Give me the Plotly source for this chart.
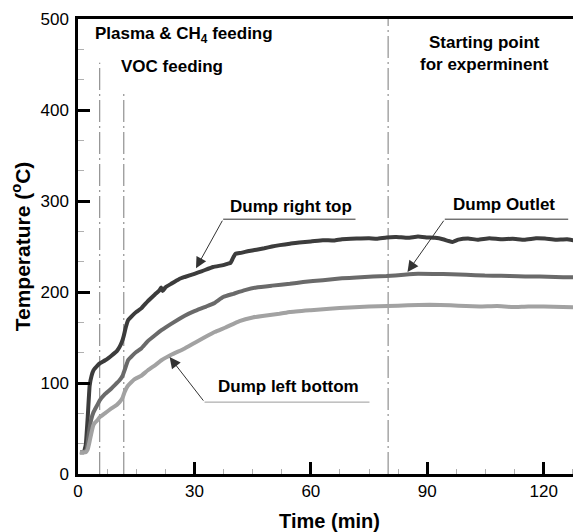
import plotly.graph_objects as go

# ---------------- data ----------------
t_right_top = [0.5, 1.5, 2.0, 2.5, 3.0, 3.5, 4.0, 5.0, 5.6, 7.0, 8.0, 8.6, 10.0, 10.7, 11.3, 11.8,
               12.3, 12.9, 14.0, 15.0, 16.3, 18.0, 20.0, 21.0, 21.4, 21.8, 22.5, 24.0, 26.0,
               27.5, 30.0, 32.0, 34.8, 37.4, 38.5, 39.3, 40.0, 40.6, 42.0, 44.0, 46.0, 48.0,
               50.0, 52.0, 54.6, 57.0, 60.0, 63.1, 66.0, 68.0, 71.8, 75.0, 77.0, 79.5, 82.0,
               85.0, 87.6, 90.0, 92.0, 94.0, 95.5, 96.5, 98.0, 100.5, 103.0, 106.0, 109.0,
               112.0, 115.0, 118.0, 120.3, 123.0, 126.0, 128.0, 129.6]
v_right_top = [24, 24, 32, 62, 97, 108, 114, 119, 121.5, 125, 128, 130, 135, 139.5, 145, 152,
               161, 169, 174, 178, 182, 190, 198, 202, 205, 201, 205, 209, 214,
               216.5, 220, 223, 227.5, 229.5, 231, 232, 238, 242, 243, 245, 246.5, 248,
               250, 251.5, 253, 254.5, 255.5, 257, 256.5, 258, 258.7, 259, 258.5, 260, 260.5,
               259.5, 261, 260, 259.5, 258, 256, 255, 257.5, 258.7, 257.5, 259, 258,
               258.5, 257.5, 259, 258.7, 257.5, 258, 256.5, 255.5]

t_outlet = [0.5, 1.5, 2.2, 2.8, 3.4, 4.0, 5.0, 5.6, 7.0, 8.6, 10.0, 10.7, 11.5, 12.0, 12.9,
            14.0, 15.0, 16.3, 18.0, 20.0, 21.5, 24.0, 27.5, 30.0, 33.0, 35.2, 37.4, 40.0,
            43.0, 46.0, 50.0, 54.6, 58.0, 63.1, 68.0, 71.8, 76.0, 79.5, 84.0, 87.6, 92.0,
            96.2, 100.0, 104.8, 109.0, 113.4, 117.0, 121.0, 125.0, 129.6]
v_outlet = [24, 24, 27, 45, 60, 68, 76, 81, 88, 94, 100, 103, 108, 114, 125,
            130, 134, 138, 146, 153, 158, 165, 174, 179, 184, 188, 194.5, 198,
            202, 205, 207, 209, 211, 213, 215, 216, 217, 217.5, 219, 220, 219.8,
            219.5, 219, 218, 217.8, 217.3, 217, 216.8, 216.3, 216]

t_left_bottom = [0.5, 2.0, 2.5, 3.0, 3.4, 3.9, 4.3, 5.0, 5.6, 7.0, 8.6, 10.0, 10.7, 11.5,
                 12.0, 12.7, 13.3, 14.5, 16.3, 18.0, 20.0, 21.5, 24.0, 27.5, 30.0, 33.0,
                 35.2, 38.0, 41.6, 45.0, 48.0, 51.9, 54.6, 60.0, 64.8, 70.0, 75.0, 79.8,
                 85.0, 90.6, 96.0, 100.0, 103.5, 108.0, 112.0, 116.0, 120.0, 125.0, 129.6]
v_left_bottom = [24, 24, 27, 36, 44, 53, 56, 59, 62.5, 67, 72, 76, 79, 84,
                 90, 96, 99, 104, 108, 114, 120, 125, 131, 138, 144, 151,
                 156, 161, 168, 172, 174, 176, 178, 180, 181.7, 183, 184, 184.5,
                 185.5, 186, 185.4, 184.5, 184, 184.5, 183.5, 184.2, 184, 183.5, 183]

series_names = ["Dump right top", "Dump Outlet", "Dump left bottom"]
series_colors = ["#3c3c3c", "#6a6a6a", "#a2a2a2"]

# event markers (vertical dash-dot lines): time and top temperature
event_times = [5.6, 11.8, 79.9]
event_tops = [452, 420, 500]

x_ticks = [0, 30, 60, 90, 120]
y_ticks = [0, 100, 200, 300, 400, 500]

# label callouts: underline start/end (time), underline level, arrow tip (time, temp), text pos
label_texts = ["Dump right top", "Dump Outlet", "Dump left bottom"]
underline_t0 = [37.4, 94.5, 32.6]
underline_t1 = [71.5, 126.3, 75.1]
underline_T = [280, 280, 79]
arrow_tip_t = [30.4, 84.9, 23.6]
arrow_tip_T = [226, 222, 128.5]
text_t = [55.0, 109.7, 54.3]
text_T = [294, 296, 96]
underline_colors = ["#333333", "#333333", "#9a9a9a"]

FONT = "Arial, Liberation Sans, Helvetica, sans-serif"

fig = go.Figure()
for tt, vv, name, col in zip([t_right_top, t_outlet, t_left_bottom],
                             [v_right_top, v_outlet, v_left_bottom],
                             series_names, series_colors):
    fig.add_trace(go.Scatter(x=tt, y=vv, mode="lines", name=name,
                             line=dict(color=col, width=4, shape="spline", smoothing=0.3),
                             showlegend=False))

for et, top in zip(event_times, event_tops):
    fig.add_shape(type="line", x0=et, x1=et, y0=0, y1=top, xref="x", yref="y",
                  line=dict(color="#7a7a7a", width=1, dash="22px,4px,2px,4px"), layer="below")

for i in range(3):
    fig.add_shape(type="line", x0=underline_t0[i], x1=underline_t1[i],
                  y0=underline_T[i], y1=underline_T[i], xref="x", yref="y",
                  line=dict(color=underline_colors[i], width=1))
    fig.add_annotation(x=arrow_tip_t[i], y=arrow_tip_T[i], ax=underline_t0[i], ay=underline_T[i],
                       xref="x", yref="y", axref="x", ayref="y", text="",
                       showarrow=True, arrowhead=2, arrowsize=2.2, arrowwidth=1,
                       arrowcolor="#333333")
    fig.add_annotation(x=text_t[i], y=text_T[i], xref="x", yref="y", text="<b>%s</b>" % label_texts[i],
                       showarrow=False, font=dict(family=FONT, size=17, color="black"),
                       xanchor="center", yanchor="middle")

fig.add_annotation(x=3.9, y=482, xref="x", yref="y",
                   text="<b>Plasma &amp; CH<sub>4</sub> feeding</b>", showarrow=False,
                   xanchor="left", yanchor="middle", font=dict(family=FONT, size=17, color="black"))
fig.add_annotation(x=10.5, y=447.5, xref="x", yref="y", text="<b>VOC feeding</b>", showarrow=False,
                   xanchor="left", yanchor="middle", font=dict(family=FONT, size=17, color="black"))
fig.add_annotation(x=104.8, y=462, xref="x", yref="y",
                   text="<b>Starting point<br>for experminent</b>", showarrow=False,
                   xanchor="center", yanchor="middle", align="center",
                   font=dict(family=FONT, size=17, color="black"))

# the page body adds an 8px offset, so the figure is sized to the remaining area
fig.update_layout(
    width=573, height=524,
    margin=dict(l=70, r=0, t=11, b=58),
    paper_bgcolor="white", plot_bgcolor="white",
    font=dict(family=FONT, color="black"),
)
fig.update_xaxes(
    range=[0, 129.6], tickvals=x_ticks, ticks="inside", ticklen=12, tickwidth=2.5,
    tickcolor="black", showline=True, linecolor="black", linewidth=2.5, mirror=True,
    showgrid=False, zeroline=False, tickfont=dict(size=17, family=FONT),
    minor=dict(dtick=7.5, ticks="inside", ticklen=5, tickwidth=1, tickcolor="#b0b0b0", showgrid=False),
    title=dict(text="<b>Time (min)</b>", font=dict(size=20, family=FONT), standoff=18),
    automargin=False,
)
fig.update_yaxes(
    range=[0, 500], tickvals=y_ticks, ticks="inside", ticklen=12, tickwidth=2.5,
    tickcolor="black", showline=True, linecolor="black", linewidth=2.5, mirror=False,
    showgrid=False, zeroline=False, tickfont=dict(size=17, family=FONT), ticklabelstandoff=3,
    minor=dict(dtick=100/3, ticks="inside", ticklen=6, tickwidth=1, tickcolor="#b0b0b0", showgrid=False),
    title=dict(text="<b>Temperature (<sup>o</sup>C)</b>", font=dict(size=21, family=FONT), standoff=14),
    automargin=False,
)

fig.write_html("out.html")
